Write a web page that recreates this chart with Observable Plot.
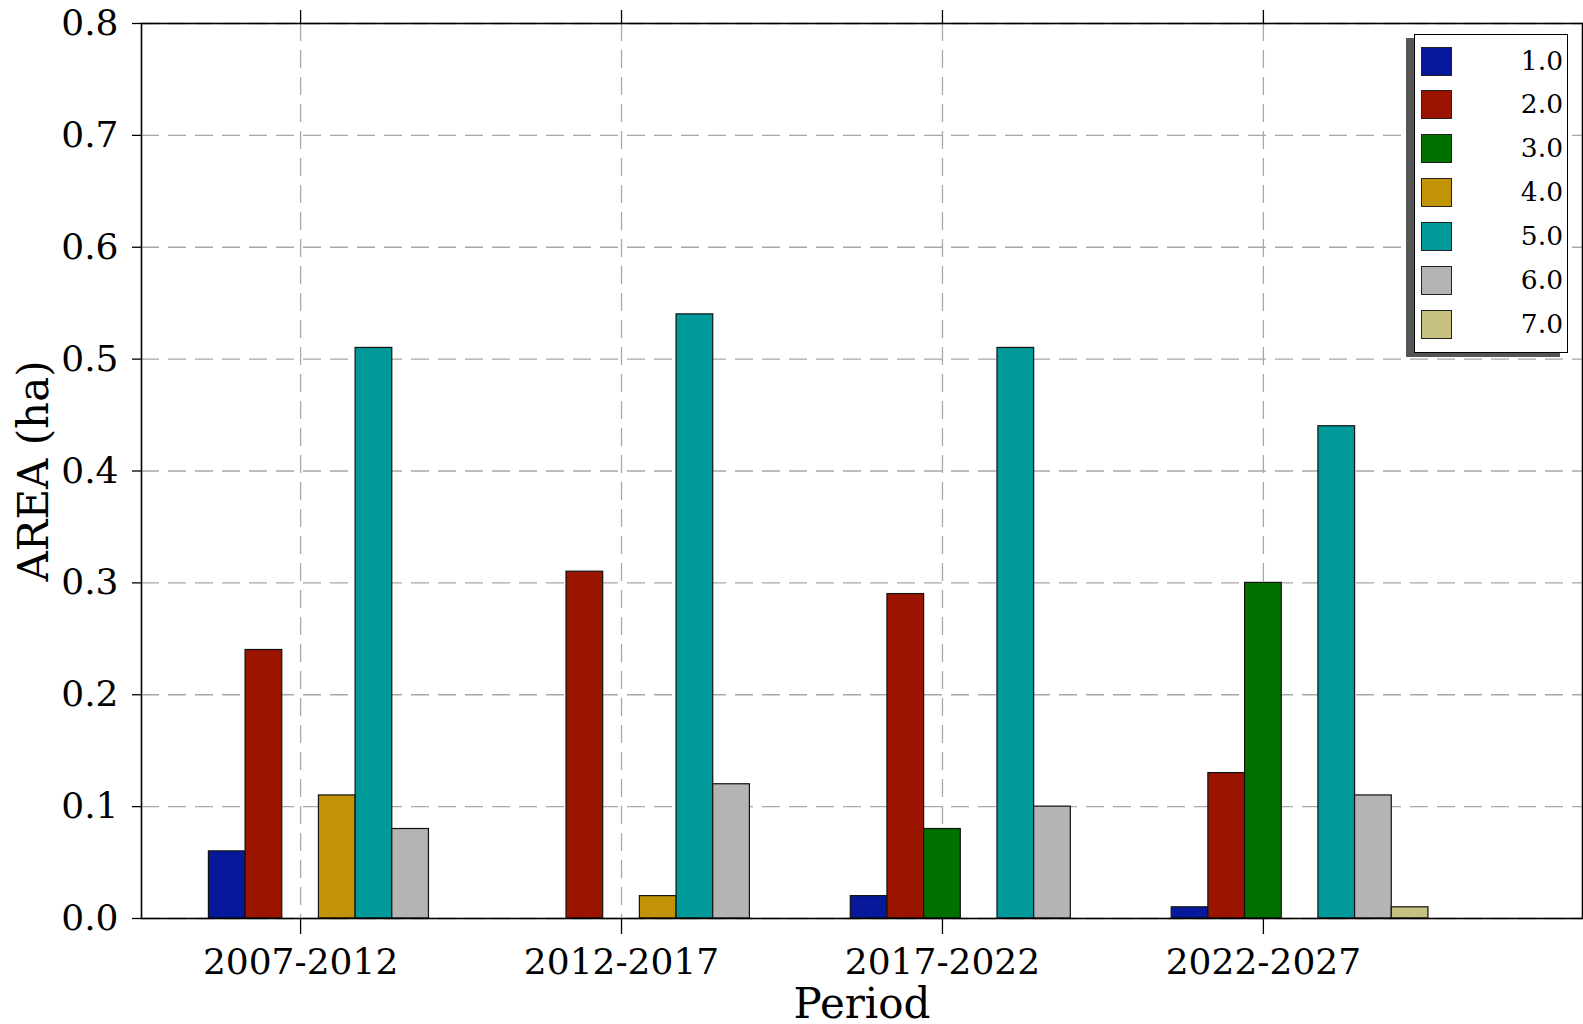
<!DOCTYPE html>
<html>
<head>
<meta charset="utf-8">
<script src="https://cdn.jsdelivr.net/npm/d3@7"></script>
<script src="https://cdn.jsdelivr.net/npm/@observablehq/plot@0.6"></script>
<style>
  html, body { margin: 0; padding: 0; background: #fff; }
  #wrap { position: relative; width: 1583px; height: 1024px; overflow: hidden; font-family: "DejaVu Serif", serif; }
  #legend { position: absolute; left: 1414px; top: 34px; width: 152px; height: 317px; background: #fff;
            border: 1.5px solid #000; box-shadow: -8px 4px 0 #555; box-sizing: content-box; }
  .item { position: absolute; left: 6px; width: 142px; height: 29px; }
  .sw { position: absolute; left: 0; top: 0; width: 28.5px; height: 27px; border: 1px solid #222; }
  .lab { position: absolute; right: 0; top: -1px; line-height: 29px; font-size: 26.5px; color: #000; }
</style>
</head>
<body>
<div id="wrap"></div>
<script>
const periods = ["2007-2012", "2012-2017", "2017-2022", "2022-2027"];
const classes = ["1.0", "2.0", "3.0", "4.0", "5.0", "6.0", "7.0"];
const colors = ["#05199a", "#9b1400", "#007100", "#c39307", "#009a9a", "#b4b4b4", "#c7c17f"];
const class1 = [0.06, 0.00, 0.02, 0.01];
const class2 = [0.24, 0.31, 0.29, 0.13];
const class3 = [0.00, 0.00, 0.08, 0.30];
const class4 = [0.11, 0.02, 0.00, 0.00];
const class5 = [0.51, 0.54, 0.51, 0.44];
const class6 = [0.08, 0.12, 0.10, 0.11];
const class7 = [0.00, 0.00, 0.00, 0.01];
const yTicks = [0, 0.1, 0.2, 0.3, 0.4, 0.5, 0.6, 0.7, 0.8];

const series = [class1, class2, class3, class4, class5, class6, class7];
const barW = 0.8 / classes.length;

const rows = [];
series.forEach((vals, ci) => {
  vals.forEach((v, pi) => {
    if (v > 0) rows.push({x1: pi + ci * barW, x2: pi + (ci + 1) * barW, value: v, cls: classes[ci]});
  });
});
const tickPos = periods.map((p, i) => i + 2.5 * barW);
const labelOf = d => periods[Math.round(d - 2.5 * barW)];

const gridStyle = {stroke: "#a8a8a8", strokeOpacity: 1, strokeWidth: 1.3, strokeDasharray: "18,9"};

const chart = Plot.plot({
  width: 1583,
  height: 1024,
  marginLeft: 141,
  marginRight: 1,
  marginTop: 23,
  marginBottom: 106,
  style: {fontFamily: "DejaVu Serif, serif", background: "#fff", color: "#000"},
  x: {domain: [-0.21, 4.28]},
  y: {domain: [0, 0.8]},
  color: {domain: classes, range: colors},
  marks: [
    Plot.gridY(yTicks, gridStyle),
    Plot.gridX(tickPos, gridStyle),
    Plot.rectY(rows, {x1: "x1", x2: "x2", y1: 0, y2: "value", fill: "cls", stroke: "#111", strokeWidth: 1.2}),
    Plot.axisY(yTicks, {tickSize: 9, tickPadding: 14, tickFormat: d3.format(".1f"), fontSize: 36, label: null, strokeWidth: 1.3}),
    Plot.axisX(tickPos, {anchor: "bottom", tickSize: 16, tickPadding: 14, tickFormat: labelOf, fontSize: 36, label: null, strokeWidth: 1.3}),
    Plot.axisX(tickPos, {anchor: "top", tickSize: 14, tickFormat: () => "", label: null, strokeWidth: 1.3}),
    Plot.frame({stroke: "#000", strokeWidth: 1.6}),
    Plot.text(["Period"], {frameAnchor: "bottom", dy: 99, lineAnchor: "bottom", textAnchor: "middle", fontSize: 42, text: d => d}),
    Plot.text(["AREA (ha)"], {frameAnchor: "left", dx: -107, rotate: -90, lineAnchor: "middle", textAnchor: "middle", fontSize: 42, text: d => d})
  ]
});

const wrap = document.getElementById("wrap");
wrap.appendChild(chart);

const legend = document.createElement("div");
legend.id = "legend";
classes.forEach((c, i) => {
  const it = document.createElement("div");
  it.className = "item";
  it.style.top = (11.5 + i * 43.9) + "px";
  const sw = document.createElement("div");
  sw.className = "sw";
  sw.style.background = colors[i];
  const lab = document.createElement("div");
  lab.className = "lab";
  lab.textContent = c;
  it.appendChild(sw);
  it.appendChild(lab);
  legend.appendChild(it);
});
wrap.appendChild(legend);
</script>
</body>
</html>
